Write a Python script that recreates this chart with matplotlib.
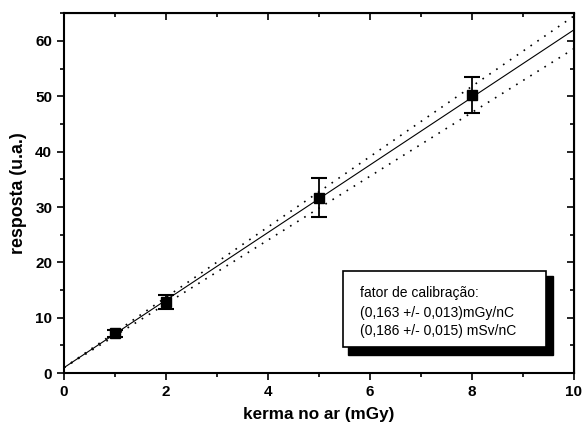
import matplotlib
matplotlib.use('Agg')
import matplotlib.pyplot as plt
from matplotlib.patches import Rectangle
from matplotlib.ticker import MultipleLocator

plt.rcParams['font.family'] = ['Liberation Sans', 'DejaVu Sans']

# medidas
kerma = [1, 2, 5, 8]
resposta = [7.2, 12.9, 31.7, 50.2]
erro = [0.6, 1.3, 3.5, 3.2]

# ajuste linear e bandas de confianca
fit_x = [0, 10]
fit_y = [1.0, 62.0]
banda_sup = [1.0, 64.5]
banda_inf = [1.0, 58.6]

fig = plt.figure(figsize=(5.83, 4.26), dpi=100)
ax = fig.add_axes([0.1098, 0.124, 0.8747, 0.845])

ax.plot(fit_x, fit_y, color='black', lw=0.8)
ax.plot(fit_x, banda_sup, color='black', lw=1.2, ls=(0, (1, 4)))
ax.plot(fit_x, banda_inf, color='black', lw=1.2, ls=(0, (1, 4)))
ax.errorbar(kerma, resposta, yerr=erro, fmt='s', color='black', ms=7,
            capsize=6, capthick=1.5, elinewidth=1.3)

ax.set_xlim(0, 10)
ax.set_ylim(0, 65)
ax.xaxis.set_major_locator(MultipleLocator(2))
ax.xaxis.set_minor_locator(MultipleLocator(1))
ax.yaxis.set_major_locator(MultipleLocator(10))
ax.yaxis.set_minor_locator(MultipleLocator(5))
ax.tick_params(which='both', direction='out', width=1.2, labelsize=11)
ax.tick_params(which='major', length=5)
ax.tick_params(which='minor', length=3)
for lab in ax.get_xticklabels() + ax.get_yticklabels():
    lab.set_fontweight('bold')
for s in ax.spines.values():
    s.set_linewidth(1.5)

# ticks internos em cima e a direita
ax2 = ax.secondary_xaxis('top')
ax2.xaxis.set_major_locator(MultipleLocator(2))
ax2.xaxis.set_minor_locator(MultipleLocator(1))
ax2.tick_params(which='both', direction='in', labeltop=False, width=1.2)
ax2.tick_params(which='major', length=5)
ax2.tick_params(which='minor', length=3)
ay2 = ax.secondary_yaxis('right')
ay2.yaxis.set_major_locator(MultipleLocator(10))
ay2.yaxis.set_minor_locator(MultipleLocator(5))
ay2.tick_params(which='both', direction='in', labelright=False, width=1.2)
ay2.tick_params(which='major', length=5)
ay2.tick_params(which='minor', length=3)

ax.set_xlabel('kerma no ar (mGy)', fontsize=12.3, fontweight='bold', labelpad=6)
ax.set_ylabel('resposta (u.a.)', fontsize=12.8, fontweight='bold', labelpad=6)

# caixa com fator de calibracao
ax.add_patch(Rectangle((5.57, 3.26), 4.02, 14.3, transform=ax.transData,
                       facecolor='black', edgecolor='black', zorder=4))
ax.add_patch(Rectangle((5.47, 4.71), 3.98, 13.8, transform=ax.transData,
                       facecolor='white', edgecolor='black', lw=1.2, zorder=5))
ax.text(5.8, 14.5, 'fator de calibração:', fontsize=10, va='center', zorder=6)
ax.text(5.8, 10.9, '(0,163 +/- 0,013)mGy/nC', fontsize=10, va='center', zorder=6)
ax.text(5.8, 7.6, '(0,186 +/- 0,015) mSv/nC', fontsize=10, va='center', zorder=6)

fig.savefig('out.png', dpi=100)
